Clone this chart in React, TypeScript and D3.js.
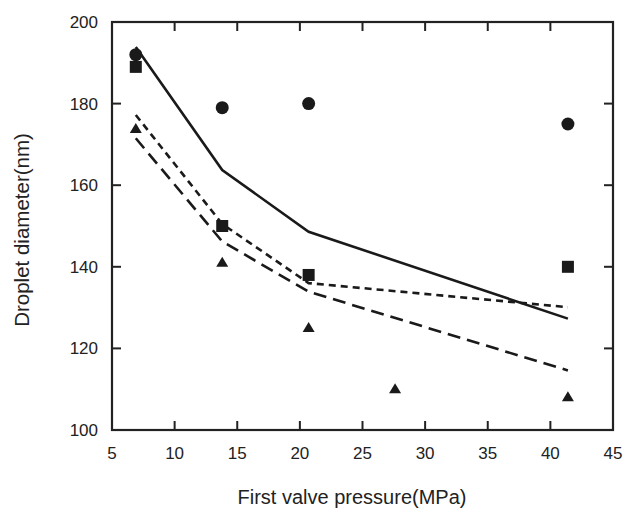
import React from "react";
import * as d3 from "d3";

const xTicks = [5, 10, 15, 20, 25, 30, 35, 40, 45];
const yTicks = [100, 120, 140, 160, 180, 200];

const circleX = [6.9, 13.8, 20.7, 41.4];
const circleY = [192, 179, 180, 175];
const squareX = [6.9, 13.8, 20.7, 41.4];
const squareY = [189, 150, 138, 140];
const triX = [6.9, 13.8, 20.7, 27.6, 41.4];
const triY = [173.8, 141, 125, 110, 108];

const lineX = [6.9, 13.8, 20.7, 41.4];
const solidY = [193.9, 163.7, 148.6, 127.3];
const shortDashY = [177.2, 150.5, 136, 130.1];
const longDashY = [171.5, 146.2, 133.9, 114.6];

export default function App() {
  const W = 623, H = 513;
  const L = 112, R = 613, T = 22, B = 430;
  const x = d3.scaleLinear().domain([5, 45]).range([L, R]);
  const y = d3.scaleLinear().domain([100, 200]).range([B, T]);
  const line = d3.line<[number, number]>().x(d => x(d[0])).y(d => y(d[1]));
  const mk = (ys: number[]) => lineX.map((v, i) => [v, ys[i]] as [number, number]);
  const ink = "#1a1a1a";
  const font = "'Liberation Sans', Arial, sans-serif";
  const tl = 9;
  return (
    <svg width={W} height={H} style={{ position: "absolute", left: 0, top: 0, background: "#fff" }}>
      <rect width={W} height={H} fill="#fff" />
      {/* lines */}
      <path d={line(mk(solidY)) || ""} fill="none" stroke={ink} strokeWidth={2.6} />
      <path d={line(mk(shortDashY)) || ""} fill="none" stroke={ink} strokeWidth={2.6} strokeDasharray="7 5" />
      <path d={line(mk(longDashY)) || ""} fill="none" stroke={ink} strokeWidth={2.6} strokeDasharray="13 7" />
      {/* markers */}
      {circleX.map((v, i) => (
        <circle key={"c" + i} cx={x(v)} cy={y(circleY[i])} r={6.5} fill={ink} />
      ))}
      {squareX.map((v, i) => (
        <rect key={"s" + i} x={x(v) - 6} y={y(squareY[i]) - 6} width={12} height={12} fill={ink} />
      ))}
      {triX.map((v, i) => {
        const cx = x(v), cy = y(triY[i]);
        return <path key={"t" + i} d={`M${cx},${cy - 6}L${cx + 6},${cy + 4}L${cx - 6},${cy + 4}Z`} fill={ink} />;
      })}
      {/* frame */}
      <rect x={L} y={T} width={R - L} height={B - T} fill="none" stroke="#222" strokeWidth={2.2} />
      {xTicks.slice(1, -1).map(t => (
        <g key={"xt" + t}>
          <line x1={x(t)} x2={x(t)} y1={B} y2={B - tl} stroke="#222" strokeWidth={2} />
          <line x1={x(t)} x2={x(t)} y1={T} y2={T + tl} stroke="#222" strokeWidth={2} />
        </g>
      ))}
      {yTicks.slice(1, -1).map(t => (
        <g key={"yt" + t}>
          <line x1={L} x2={L + tl} y1={y(t)} y2={y(t)} stroke="#222" strokeWidth={2} />
          <line x1={R} x2={R - tl} y1={y(t)} y2={y(t)} stroke="#222" strokeWidth={2} />
        </g>
      ))}
      {xTicks.map(t => (
        <text key={"xl" + t} x={x(t)} y={459} textAnchor="middle" fontFamily={font} fontSize={17} fill="#222">{t}</text>
      ))}
      {yTicks.map(t => (
        <text key={"yl" + t} x={98} y={y(t) + 6} textAnchor="end" fontFamily={font} fontSize={17} fill="#222">{t}</text>
      ))}
      <text x={352} y={504} textAnchor="middle" fontFamily={font} fontSize={20} fill="#222">First valve pressure(MPa)</text>
      <text transform={`translate(29,230) rotate(-90)`} textAnchor="middle" fontFamily={font} fontSize={20.5} fill="#222">Droplet diameter(nm)</text>
    </svg>
  );
}
